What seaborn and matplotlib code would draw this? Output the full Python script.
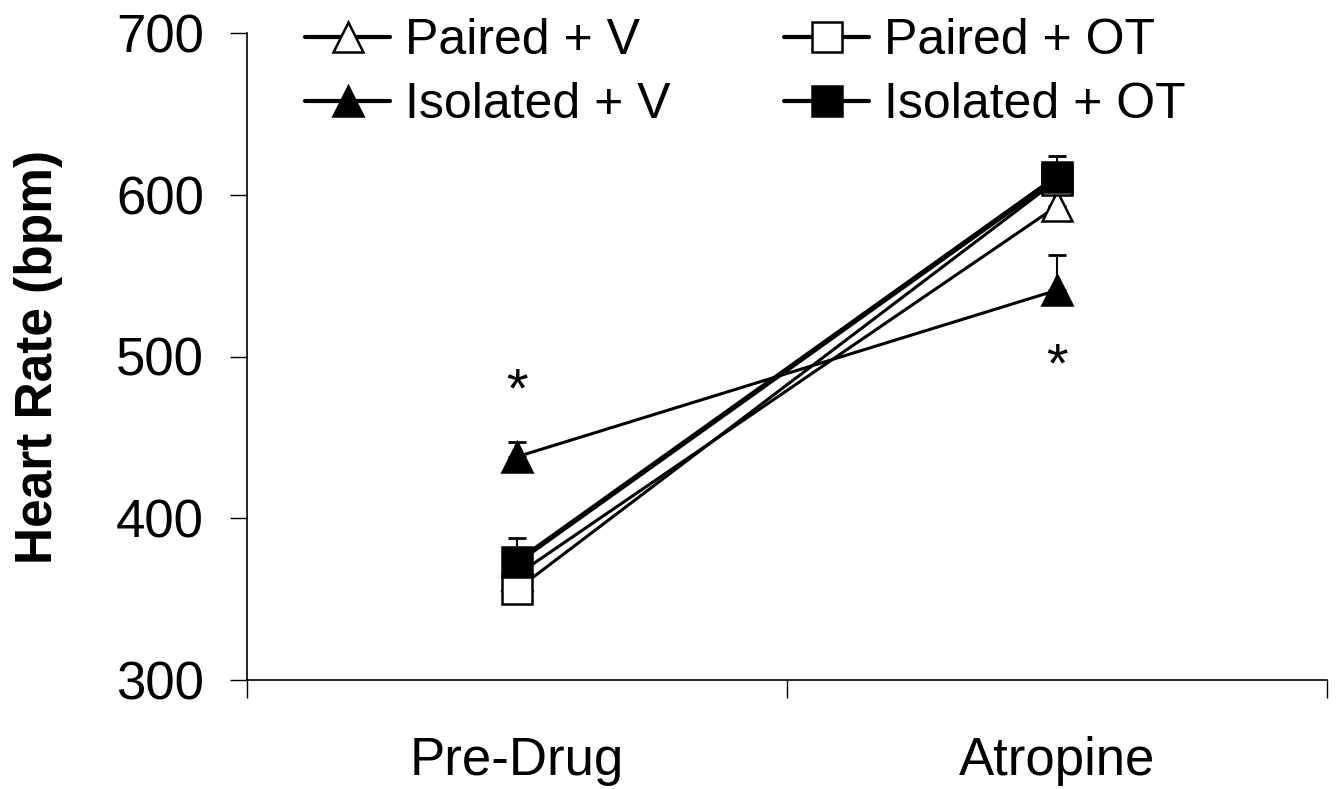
import matplotlib
matplotlib.use("Agg")
import matplotlib.pyplot as plt
import seaborn as sns
import pandas as pd
import numpy as np

sns.set_theme(style="ticks")
plt.rcParams['font.family'] = ['Liberation Sans', 'DejaVu Sans']
plt.rcParams['text.color'] = 'black'
plt.rcParams['axes.labelcolor'] = 'black'
plt.rcParams['xtick.color'] = 'black'
plt.rcParams['ytick.color'] = 'black'

conditions = ["Pre-Drug", "Atropine"]
series_names = ["Paired + V", "Isolated + V", "Paired + OT", "Isolated + OT"]
paired_v = [365, 593]
isolated_v = [438, 541]
paired_ot = [356, 609]
isolated_ot = [373, 611]
paired_v_sem = [9, 9]
isolated_v_sem = [9, 22]
paired_ot_sem = [9, 9]
isolated_ot_sem = [15, 13]
yticks = [300, 400, 500, 600, 700]

values = [paired_v, isolated_v, paired_ot, isolated_ot]
sems = [paired_v_sem, isolated_v_sem, paired_ot_sem, isolated_ot_sem]
markers = ["^", "^", "s", "s"]
faces = ["white", "black", "white", "black"]
lws = [2.2, 2.2, 2.2, 3.8]
msize = [21, 21, 21, 21]

fig = plt.figure(figsize=(13.36, 7.89), dpi=100)
ax = fig.add_axes([247 / 1336, 1 - 680 / 789, 1080 / 1336, 647 / 789])

xpos = np.arange(len(conditions))
order = [2, 0, 1, 3]
handles = {}
for i in order:
    df = pd.DataFrame({"x": xpos, "y": values[i]})
    ax.errorbar(xpos, values[i], yerr=[np.zeros(2), sems[i]], fmt="none",
                ecolor="black", elinewidth=1.5, capsize=6.5, capthick=2, zorder=2 + i)
    sns.lineplot(data=df, x="x", y="y", ax=ax, color="black", linewidth=lws[i],
                 marker=markers[i], markersize=msize[i], markerfacecolor=faces[i],
                 markeredgecolor="black", markeredgewidth=1.8, zorder=3 + i,
                 label=series_names[i], legend=False)
    handles[i] = ax.lines[-1]

ax.set_xlim(-0.5, 1.5)
ax.set_ylim(300, 700)
ax.set_yticks(yticks)
ax.set_yticklabels([str(v) for v in yticks], fontsize=38)
ax.set_xticks([-0.5, 0.5, 1.5])
ax.set_xticklabels(["", "", ""])
ax.set_xticks(xpos, minor=True)
ax.set_xticklabels(conditions, minor=True, fontsize=38)
ax.tick_params(axis="x", which="major", length=13, width=1, direction="out")
ax.tick_params(axis="x", which="minor", length=0, pad=40)
ax.tick_params(axis="y", length=12, width=1, pad=19)
ax.set_xlabel("")
ax.set_ylabel("Heart Rate (bpm)", fontsize=37, fontweight="bold")
ax.yaxis.set_label_coords(-0.170, 0.5)
for s in ["top", "right"]:
    ax.spines[s].set_visible(False)
for s in ["left", "bottom"]:
    ax.spines[s].set_color("black")
    ax.spines[s].set_linewidth(1.2)

ax.text(0, 478, "*", ha="center", va="center", fontsize=40, color="black")
ax.text(1, 493, "*", ha="center", va="center", fontsize=40, color="black")

leg_handles = [handles[0], handles[1], handles[2], handles[3]]
leg = fig.legend(leg_handles, series_names, ncol=2, loc="upper left",
                 bbox_to_anchor=(305 / 1336, 1 - 18 / 789), frameon=False, fontsize=36,
                 handlelength=1.7, handletextpad=0.3, columnspacing=2.27,
                 labelspacing=0.37, borderpad=0, borderaxespad=0, markerscale=1.0)
for h in leg.legend_handles:
    h.set_linewidth(3.0)

fig.savefig("out.png", dpi=100)
